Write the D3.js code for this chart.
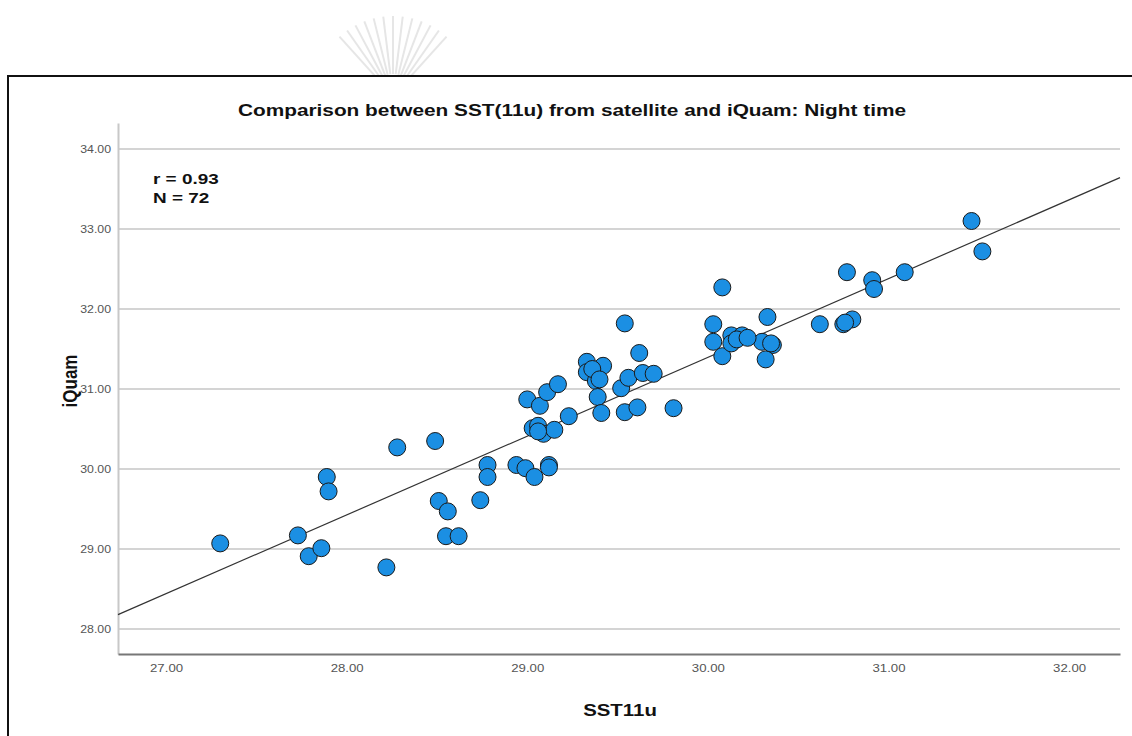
<!DOCTYPE html>
<html>
<head>
<meta charset="utf-8">
<script src="https://cdn.jsdelivr.net/npm/d3@7"></script>
<style>
  body { margin: 0; background: #fff; }
  svg { display: block; }
  .tick-label { font-family: "Liberation Sans", Arial, sans-serif; font-size: 11px; fill: #555; }
</style>
</head>
<body>
<div id="chart"></div>
<script>
// SST11u (satellite) values
const sst11u = [
    27.30, 27.73, 27.79, 27.86, 27.89, 27.90, 28.22, 28.28, 28.49, 28.51,
    28.56, 28.55, 28.62, 28.74, 28.78, 28.78, 28.94, 28.99, 29.04, 29.12,
    29.00, 29.07, 29.11, 29.17, 29.03, 29.06, 29.09, 29.15, 29.23, 29.33,
    29.33, 29.42, 29.38, 29.39, 29.41, 29.54, 29.52, 29.56, 29.54, 29.61,
    29.62, 29.64, 29.70, 29.81, 30.03, 30.03, 30.08, 30.08, 30.13, 30.13,
    30.19, 30.33, 30.30, 30.36, 30.32, 30.62, 30.75, 30.80, 30.77, 30.91,
    30.92, 31.09, 31.46, 31.52, 29.06, 29.12, 29.36, 30.16, 30.22, 30.35,
    30.76, 29.40
];
// iQuam values
const iquam = [
    29.07, 29.17, 28.91, 29.01, 29.90, 29.72, 28.77, 30.27, 30.35, 29.60,
    29.47, 29.16, 29.16, 29.61, 30.05, 29.90, 30.05, 30.01, 29.90, 30.05,
    30.87, 30.79, 30.96, 31.06, 30.51, 30.54, 30.44, 30.49, 30.66, 31.34,
    31.21, 31.29, 31.10, 30.90, 30.70, 31.82, 31.01, 31.14, 30.71, 30.77,
    31.45, 31.20, 31.19, 30.76, 31.81, 31.59, 31.41, 32.27, 31.67, 31.57,
    31.67, 31.90, 31.59, 31.55, 31.37, 31.81, 31.81, 31.87, 32.46, 32.36,
    32.25, 32.46, 33.10, 32.72, 30.47, 30.02, 31.25, 31.62, 31.64, 31.57,
    31.83, 31.12
];

const xTicks = [27, 28, 29, 30, 31, 32];
const yTicks = [28, 29, 30, 31, 32, 33, 34];

// fit line
const fitIntercept = 1.86;
const fitSlope = 0.9845;

const stats = ["r = 0.93", "N = 72"];
const title = "Comparison between SST(11u) from satellite and iQuam: Night time";

const data = sst11u.map((d, i) => ({x: d, y: iquam[i]}));

const W = 1132, H = 736;
const svg = d3.select("#chart").append("svg")
    .attr("width", W).attr("height", H);

// the source picture is stretched sideways, so widen the text to match
const stretch = (sel, k) => sel.each(function () {
    const len = this.getComputedTextLength();
    d3.select(this).attr("textLength", len * k).attr("lengthAdjust", "spacingAndGlyphs");
});

// faint watermark fan above the frame
const fan = svg.append("g")
    .attr("transform", "translate(393,96)")
    .attr("stroke", "#e6e6e6")
    .attr("stroke-width", 2)
    .attr("fill", "none");
d3.range(-42, 46, 7).forEach(a => {
    const r = a * Math.PI / 180;
    fan.append("line")
        .attr("x1", Math.sin(r) * 22).attr("y1", -Math.cos(r) * 22)
        .attr("x2", Math.sin(r) * 80).attr("y2", -Math.cos(r) * 80);
});

// outer frame
svg.append("rect")
    .attr("x", 8).attr("y", 76)
    .attr("width", W + 20).attr("height", H)
    .attr("fill", "#fff")
    .attr("stroke", "#111")
    .attr("stroke-width", 2);

const plotLeft = 118, plotRight = 1120, plotTop = 123, plotBottom = 654;

const x = d3.scaleLinear()
    .domain([26.734, 32.282])
    .range([plotLeft, plotRight]);

const y = d3.scaleLinear()
    .domain([27.6875, 34.325])
    .range([plotBottom, plotTop]);

// horizontal grid lines
svg.append("g")
    .selectAll("line")
    .data(yTicks)
    .join("line")
    .attr("x1", plotLeft).attr("x2", plotRight)
    .attr("y1", d => y(d)).attr("y2", d => y(d))
    .attr("stroke", "#d4d4d4")
    .attr("stroke-width", 2);

// axes
const yAxis = svg.append("g")
    .attr("transform", "translate(" + plotLeft + ",0)")
    .call(d3.axisLeft(y).tickValues(yTicks).tickFormat(d3.format(".2f")).tickSize(0).tickPadding(7));
yAxis.select(".domain").attr("stroke", "#c8c8c8").attr("stroke-width", 2);
yAxis.selectAll("text").attr("class", "tick-label").call(stretch, 1.12);

const xAxis = svg.append("g")
    .attr("transform", "translate(0," + plotBottom + ")")
    .call(d3.axisBottom(x).tickValues(xTicks).tickFormat(d3.format(".2f")).tickSize(0).tickPadding(10));
xAxis.select(".domain").attr("stroke", "#777").attr("stroke-width", 2);
xAxis.selectAll("text").attr("class", "tick-label").call(stretch, 1.2);

// fit line
const xd = x.domain();
svg.append("line")
    .attr("x1", x(xd[0])).attr("y1", y(fitIntercept + fitSlope * xd[0]))
    .attr("x2", x(xd[1])).attr("y2", y(fitIntercept + fitSlope * xd[1]))
    .attr("stroke", "#333")
    .attr("stroke-width", 1.2);

// points
svg.append("g")
    .selectAll("circle")
    .data(data)
    .join("circle")
    .attr("cx", d => x(d.x))
    .attr("cy", d => y(d.y))
    .attr("r", 8.5)
    .attr("fill", "#1b8fe3")
    .attr("stroke", "#1a1a1a")
    .attr("stroke-width", 1);

// stats text
svg.append("g")
    .selectAll("text")
    .data(stats)
    .join("text")
    .attr("x", 153)
    .attr("y", (d, i) => 184 + i * 19)
    .attr("font-family", "Liberation Sans, Arial, sans-serif")
    .attr("font-weight", "bold")
    .attr("font-size", 15)
    .attr("fill", "#111")
    .text(d => d)
    .call(stretch, 1.26);

// title
svg.append("text")
    .attr("x", 572).attr("y", 116)
    .attr("text-anchor", "middle")
    .attr("font-family", "Liberation Sans, Arial, sans-serif")
    .attr("font-weight", "bold")
    .attr("font-size", 16)
    .attr("fill", "#111")
    .text(title)
    .call(stretch, 1.3);

// axis titles
svg.append("text")
    .attr("x", 620).attr("y", 716)
    .attr("text-anchor", "middle")
    .attr("font-family", "Liberation Sans, Arial, sans-serif")
    .attr("font-weight", "bold")
    .attr("font-size", 17)
    .attr("fill", "#111")
    .text("SST11u")
    .call(stretch, 1.2);

svg.append("text")
    .attr("transform", "translate(77,381) rotate(-90) scale(1,1.15)")
    .attr("text-anchor", "middle")
    .attr("font-family", "Liberation Sans, Arial, sans-serif")
    .attr("font-weight", "bold")
    .attr("font-size", 17)
    .attr("fill", "#111")
    .text("iQuam");
</script>
</body>
</html>
